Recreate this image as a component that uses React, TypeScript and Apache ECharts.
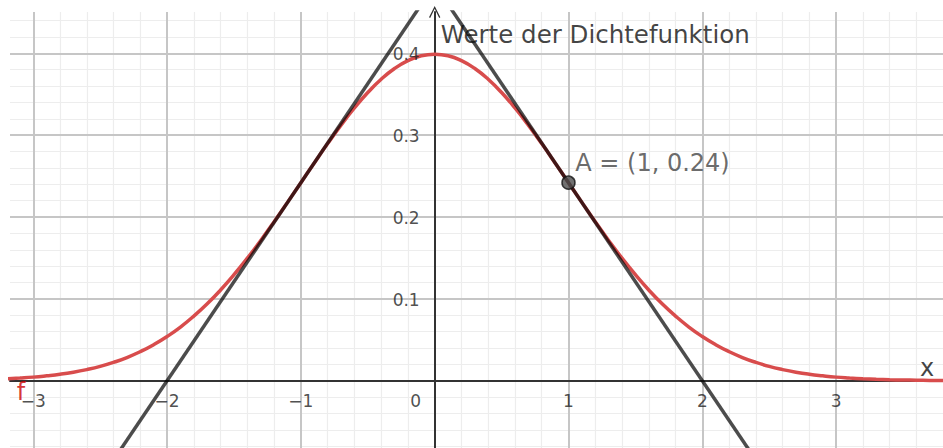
import React, { useEffect, useRef } from "react";
import * as echarts from "echarts";

// view window (data units)
const X_MIN = -3.174;
const X_MAX = 3.799;
const Y_MIN = -0.0822;
const Y_MAX = 0.4505;

// tick labels
const xTickValues = [-3, -2, -1, 1, 2, 3];
const yTickValues = [0.1, 0.2, 0.3, 0.4];
const xMajorGrid = [-3, -2, -1, 0, 1, 2, 3];
const yMajorGrid = [0, 0.1, 0.2, 0.3, 0.4];
const xMinorStep = 0.2;
const yMinorStep = 0.02;

// density curve f
const curveX = [
  -3.2, -3.1, -3.0, -2.9, -2.8, -2.7, -2.6, -2.5, -2.4, -2.3, -2.2, -2.1, -2.0, -1.9, -1.8, -1.7, -1.6,
  -1.5, -1.4, -1.3, -1.2, -1.1, -1.0, -0.9, -0.8, -0.7, -0.6, -0.5, -0.4, -0.3, -0.2, -0.1, 0.0, 0.1,
  0.2, 0.3, 0.4, 0.5, 0.6, 0.7, 0.8, 0.9, 1.0, 1.1, 1.2, 1.3, 1.4, 1.5, 1.6, 1.7, 1.8, 1.9, 2.0, 2.1,
  2.2, 2.3, 2.4, 2.5, 2.6, 2.7, 2.8, 2.9, 3.0, 3.1, 3.2, 3.3, 3.4, 3.5, 3.6, 3.7, 3.8,
];
const curveY = [
  0.0024, 0.0033, 0.0044, 0.006, 0.0079, 0.0104, 0.0136, 0.0175, 0.0224, 0.0283, 0.0355, 0.044, 0.054,
  0.0656, 0.079, 0.094, 0.1109, 0.1295, 0.1497, 0.1714, 0.1942, 0.2179, 0.242, 0.2661, 0.2897, 0.3123,
  0.3332, 0.3521, 0.3683, 0.3814, 0.391, 0.397, 0.3989, 0.397, 0.391, 0.3814, 0.3683, 0.3521, 0.3332,
  0.3123, 0.2897, 0.2661, 0.242, 0.2179, 0.1942, 0.1714, 0.1497, 0.1295, 0.1109, 0.094, 0.079, 0.0656,
  0.054, 0.044, 0.0355, 0.0283, 0.0224, 0.0175, 0.0136, 0.0104, 0.0079, 0.006, 0.0044, 0.0033, 0.0024,
  0.0017, 0.0012, 0.0009, 0.0006, 0.0004, 0.0003,
];

// tangent lines (two points each)
const tangentLeft = [
  [-2.5, -0.121],
  [0, 0.484],
];
const tangentRight = [
  [0, 0.484],
  [2.5, -0.121],
];

// point A
const pointA = [1, 0.242];
const pointALabel = "A = (1, 0.24)";
const yAxisTitle = "Werte der Dichtefunktion";
const xAxisTitle = "x";
const curveName = "f";

const FONT = "DejaVu Sans";

function gridValues(min: number, max: number, step: number) {
  const out: number[] = [];
  const start = Math.ceil(min / step - 1e-9);
  const end = Math.floor(max / step + 1e-9);
  for (let i = start; i <= end; i++) out.push(+(i * step).toFixed(4));
  return out;
}

const fmtX = (v: number) => String(v).replace("-", "\u2212");

export default function App() {
  const ref = useRef<HTMLDivElement>(null);
  useEffect(() => {
    if (!ref.current) return;
    const chart = echarts.init(ref.current, undefined, { renderer: "svg" });

    const xMinor = gridValues(X_MIN, X_MAX, xMinorStep).filter((v) => Math.abs(v - Math.round(v)) > 1e-6);
    const yMinor = gridValues(Y_MIN, Y_MAX, yMinorStep).filter(
      (v) => Math.abs(v * 10 - Math.round(v * 10)) > 1e-6
    );

    const minorStyle = { color: "#ededed", width: 1.2, type: "solid" as const };
    const majorStyle = { color: "#c6c6c6", width: 2, type: "solid" as const };

    const tickLabelData = [
      ...xTickValues.map((v) => ({
        value: [v, 0],
        label: { formatter: fmtX(v), offset: [0, 20], align: "center" },
      })),
      { value: [0, 0], label: { formatter: "0", offset: [-19, 20], align: "center" } },
      ...yTickValues.map((v) => ({
        value: [0, v],
        label: { formatter: v.toFixed(1), offset: [-15, 1], align: "right" },
      })),
    ];

    const option: any = {
      animation: false,
      backgroundColor: "#ffffff",
      grid: { left: 10, top: 12, right: 0, bottom: 0, containLabel: false, outerBoundsMode: "none" },
      xAxis: {
        type: "value",
        min: X_MIN,
        max: X_MAX,
        z: 1,
        splitLine: { show: false },
        axisTick: { show: false },
        axisLabel: { show: false },
        axisLine: { show: true, onZero: true, lineStyle: { color: "#333333", width: 2 } },
      },
      yAxis: {
        type: "value",
        min: Y_MIN,
        max: Y_MAX,
        z: 1,
        splitLine: { show: false },
        axisTick: { show: false },
        axisLabel: { show: false },
        axisLine: {
          show: true,
          onZero: true,
          lineStyle: { color: "#333333", width: 2 },
          symbol: ["none", "path://M0,10 L5,0 L10,10 L9,10.6 L5,2.4 L1,10.6 Z"],
          symbolSize: [14, 12],
          symbolOffset: [0, 0],
        },
      },
      series: [
        {
          name: "grid",
          type: "line",
          data: [],
          z: 0,
          silent: true,
          markLine: {
            z: 0,
            silent: true,
            symbol: ["none", "none"],
            label: { show: false },
            emphasis: { disabled: true },
            animation: false,
            data: [
              ...xMinor.map((v) => ({ xAxis: v, lineStyle: minorStyle })),
              ...yMinor.map((v) => ({ yAxis: v, lineStyle: minorStyle })),
              ...xMajorGrid.map((v) => ({ xAxis: v, lineStyle: majorStyle })),
              ...yMajorGrid.map((v) => ({ yAxis: v, lineStyle: majorStyle })),
            ],
          },
        },
        {
          name: curveName,
          type: "line",
          z: 3,
          smooth: true,
          showSymbol: false,
          clip: true,
          data: curveX.map((x, i) => [x, curveY[i]]),
          lineStyle: { color: "#d84c4c", width: 3.5 },
        },
        {
          name: "tangentL",
          type: "line",
          z: 4,
          showSymbol: false,
          clip: true,
          data: tangentLeft,
          lineStyle: { color: "rgba(0,0,0,0.7)", width: 3.5 },
        },
        {
          name: "tangentR",
          type: "line",
          z: 4,
          showSymbol: false,
          clip: true,
          data: tangentRight,
          lineStyle: { color: "rgba(0,0,0,0.7)", width: 3.5 },
        },
        {
          name: "A",
          type: "scatter",
          z: 5,
          symbolSize: 13,
          data: [pointA],
          itemStyle: { color: "#4d4d4d", borderColor: "#111111", borderWidth: 1.5 },
          label: {
            show: true,
            formatter: pointALabel,
            position: "inside",
            offset: [84, -20],
            align: "center",
            verticalAlign: "middle",
            color: "#444444",
            fontFamily: FONT,
            fontSize: 24,
          },
        },
        {
          name: "ticks",
          type: "scatter",
          z: 6,
          symbolSize: 0,
          silent: true,
          clip: false,
          data: tickLabelData,
          label: {
            show: true,
            position: "inside",
            verticalAlign: "middle",
            fontFamily: FONT,
            fontSize: 17,
            color: "#222222",
          },
        },
        {
          name: "texts",
          type: "scatter",
          z: 6,
          symbolSize: 0,
          silent: true,
          clip: false,
          data: [
            {
              value: [0, Y_MAX],
              label: { formatter: yAxisTitle, offset: [6, 22], align: "left", color: "#111111", fontSize: 24.5 },
            },
            {
              value: [X_MAX, 0],
              label: { formatter: xAxisTitle, offset: [-16, -13], align: "center", color: "#111111" },
            },
            {
              value: [X_MIN, 0],
              label: { formatter: curveName, offset: [11, 11], align: "center", color: "#cc0000" },
            },
          ],
          label: {
            show: true,
            position: "inside",
            verticalAlign: "middle",
            fontFamily: FONT,
            fontSize: 24,
          },
        },
      ],
    };
    chart.setOption(option);
    return () => chart.dispose();
  }, []);
  return (
    <div
      ref={ref}
      style={{ position: "fixed", left: 0, top: 0, width: 943, height: 448, background: "#ffffff" }}
    />
  );
}
